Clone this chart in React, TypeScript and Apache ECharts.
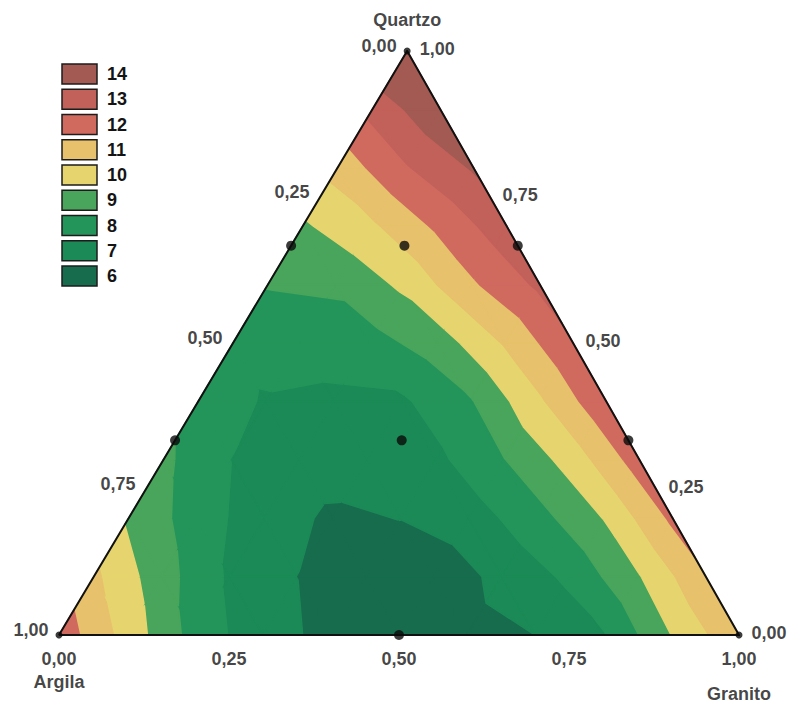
import React, { useEffect, useRef } from "react";
import * as echarts from "echarts";

// Response on a 0.1 simplex lattice.
// Row k: Quartzo = k/10; entries: Granito = 0, 0.1, ... (Argila = remainder).
const ROW_Q00 = [11.6, 9.6, 7.6, 6.35, 5.75, 5.55, 5.7, 6.0, 6.9, 9.0, 10.8];
const ROW_Q01 = [10.2, 8.4, 6.85, 6.0, 5.5, 5.4, 6.25, 7.2, 8.9, 10.9];
const ROW_Q02 = [8.85, 7.5, 6.4, 5.85, 6.02, 6.5, 7.6, 9.05, 11.2];
const ROW_Q03 = [8.2, 7.0, 6.45, 6.4, 6.75, 7.95, 9.4, 11.5];
const ROW_Q04 = [7.6, 6.9, 6.75, 6.85, 7.9, 9.8, 11.8];
const ROW_Q05 = [7.35, 7.5, 7.6, 8.45, 10.1, 11.9];
const ROW_Q06 = [8.05, 8.15, 9.2, 10.85, 12.2];
const ROW_Q07 = [8.85, 9.8, 11.2, 12.6];
const ROW_Q08 = [10.35, 11.9, 13.1];
const ROW_Q09 = [12.3, 13.8];
const ROW_Q10 = [14.6];
const SURFACE = [ROW_Q00, ROW_Q01, ROW_Q02, ROW_Q03, ROW_Q04, ROW_Q05, ROW_Q06, ROW_Q07, ROW_Q08, ROW_Q09, ROW_Q10];

// contour levels (upper limits of the bands 6..13; band 14 is everything above 13)
const BAND_LIMITS = [6, 7, 8, 9, 10, 11, 12, 13];
const BAND_LABELS = ["6", "7", "8", "9", "10", "11", "12", "13", "14"];
const BAND_COLORS = ["#176c4e", "#1b8a56", "#24955a", "#48a55b", "#e6d56e", "#e7c16b", "#d06a5f", "#c2605a", "#a25a52"];

// design points [Quartzo, Argila, Granito]
const DESIGN_POINTS: [number, number, number][] = [
  [1, 0, 0], [0, 1, 0], [0, 0, 1],
  [2 / 3, 1 / 3, 0], [1 / 3, 2 / 3, 0],
  [2 / 3, 0, 1 / 3], [1 / 3, 0, 2 / 3],
  [2 / 3, 1 / 6, 1 / 6], [1 / 3, 1 / 3, 1 / 3], [0, 0.5, 0.5],
];

const TICKS = [0, 0.25, 0.5, 0.75, 1];
const TICK_LABELS = ["0,00", "0,25", "0,50", "0,75", "1,00"];
const AXIS_NAMES = { top: "Quartzo", left: "Argila", right: "Granito" };

const SKEW = 0.512; // horizontal position of the apex within the base
const FONT = '"Liberation Sans", Arial, sans-serif';
const TXT = "#141414";

function tern(q: number, g: number): [number, number] {
  return [g + SKEW * q, q];
}

type V = { p: number[]; v: number };
function clip(poly: V[], f: (v: number) => number): V[] {
  const out: V[] = [];
  for (let i = 0; i < poly.length; i++) {
    const A = poly[i];
    const B = poly[(i + 1) % poly.length];
    const fa = f(A.v);
    const fb = f(B.v);
    if (fa >= 0) out.push(A);
    if ((fa >= 0) !== (fb >= 0)) {
      const t = fa / (fa - fb);
      out.push({
        p: [A.p[0] + t * (B.p[0] - A.p[0]), A.p[1] + t * (B.p[1] - A.p[1])],
        v: A.v + t * (B.v - A.v),
      });
    }
  }
  return out;
}

function buildTriangles(): number[][] {
  const n = SURFACE.length - 1;
  const node = (i: number, j: number) => {
    const [x, y] = tern(i / n, j / n);
    return [x, y, SURFACE[i][j]];
  };
  const tris: number[][] = [];
  for (let i = 0; i < n; i++) {
    for (let j = 0; i + j < n; j++) {
      tris.push([...node(i, j), ...node(i, j + 1), ...node(i + 1, j)]);
      if (i + j + 2 <= n) tris.push([...node(i, j + 1), ...node(i + 1, j + 1), ...node(i + 1, j)]);
    }
  }
  return tris;
}

function labelPoints(kind: "left" | "right" | "bottom") {
  return TICKS.map((t, k) => {
    let c: [number, number];
    if (kind === "left") c = tern(1 - t, 0); // Argila fraction t on left edge
    else if (kind === "right") c = tern(t, 1 - t); // Quartzo fraction t on right edge
    else c = tern(0, t); // Granito fraction t on base
    return { value: c, name: TICK_LABELS[k] };
  });
}

export default function App() {
  const ref = useRef<HTMLDivElement>(null);
  useEffect(() => {
    if (!ref.current) return;
    const chart = echarts.init(ref.current, undefined, { renderer: "svg" });
    const labelStyle = { fontFamily: FONT, fontWeight: "bold" as const, fontSize: 18, color: TXT, formatter: "{b}" };
    const hiddenScatter = (data: any[], label: any) => ({
      type: "scatter",
      data,
      symbolSize: 1,
      itemStyle: { color: "rgba(0,0,0,0)" },
      silent: true,
      z: 6,
      label: { show: true, ...labelStyle, ...label },
    });

    const legendEls: any[] = [];
    for (let i = 0; i < BAND_LABELS.length; i++) {
      const b = BAND_LABELS.length - 1 - i;
      const top = 64 + i * 25.25;
      legendEls.push({
        type: "rect",
        shape: { x: 62, y: top, width: 35, height: 20 },
        style: { fill: BAND_COLORS[b], stroke: "#1c1c1c", lineWidth: 1.5 },
      });
      legendEls.push({
        type: "text",
        x: 107,
        y: top + 10,
        style: { text: BAND_LABELS[b], font: `bold 18px ${FONT}`, fill: TXT, textVerticalAlign: "middle", textAlign: "left" },
      });
    }

    chart.setOption({
      animation: false,
      backgroundColor: "#ffffff",
      grid: { left: 59, right: 55, top: 51, bottom: 75 },
      xAxis: { type: "value", min: 0, max: 1, show: false },
      yAxis: { type: "value", min: 0, max: 1, show: false },
      graphic: legendEls,
      series: [
        {
          type: "custom",
          silent: true,
          data: buildTriangles(),
          encode: { x: [0, 3, 6], y: [1, 4, 7] },
          z: 1,
          renderItem: (_params: any, api: any) => {
            const pts: V[] = [0, 1, 2].map((k) => ({
              p: api.coord([api.value(3 * k), api.value(3 * k + 1)]),
              v: api.value(3 * k + 2),
            }));
            const children: any[] = [];
            for (let b = 0; b < BAND_COLORS.length; b++) {
              let poly = pts;
              if (b > 0) {
                const lo = BAND_LIMITS[b - 1];
                poly = clip(poly, (v) => v - lo);
              }
              if (b < BAND_LIMITS.length) {
                const hi = BAND_LIMITS[b];
                poly = clip(poly, (v) => hi - v);
              }
              if (poly.length >= 3) {
                children.push({
                  type: "polygon",
                  shape: { points: poly.map((o) => o.p) },
                  style: { fill: BAND_COLORS[b], stroke: BAND_COLORS[b], lineWidth: 1.5, lineJoin: "round" },
                });
              }
            }
            return { type: "group", children };
          },
        },
        {
          type: "line",
          data: [tern(0, 0), tern(0, 1), tern(1, 0), tern(0, 0)],
          symbol: "none",
          silent: true,
          z: 4,
          lineStyle: { color: "#111", width: 2, join: "miter" },
        },
        {
          type: "scatter",
          silent: true,
          z: 5,
          data: DESIGN_POINTS.map(([q, a, g]) => ({
            value: tern(q, g),
            symbolSize: q === 1 || a === 1 || g === 1 ? 7 : 10,
          })),
          itemStyle: { color: "#0a0a0a" },
        },
        hiddenScatter(labelPoints("left"), { position: "left", distance: 10, offset: [0, -5] }),
        hiddenScatter(labelPoints("right"), { position: "right", distance: 12, offset: [0, -2] }),
        hiddenScatter(labelPoints("bottom"), { position: "bottom", distance: 14 }),
        hiddenScatter([{ value: tern(1, 0), name: AXIS_NAMES.top }], { position: "top", distance: 22 }),
        hiddenScatter([{ value: tern(0, 0), name: AXIS_NAMES.left }], { position: "bottom", distance: 37 }),
        hiddenScatter([{ value: tern(0, 1), name: AXIS_NAMES.right }], { position: "bottom", distance: 49 }),
      ],
    });
    return () => chart.dispose();
  }, []);
  return <div ref={ref} style={{ position: "absolute", left: 0, top: 0, width: 794, height: 710 }} />;
}
